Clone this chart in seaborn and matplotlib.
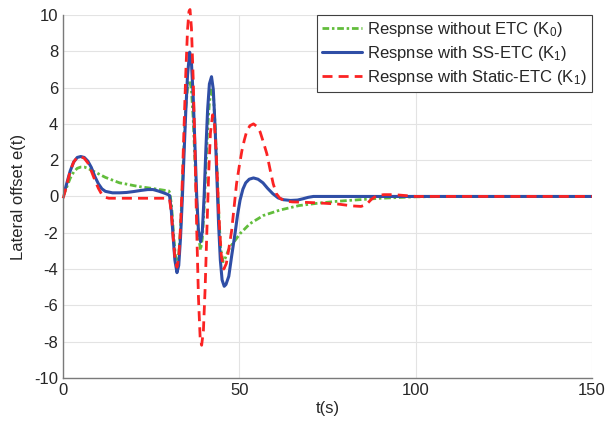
import matplotlib
matplotlib.use("Agg")
import matplotlib.pyplot as plt
import seaborn as sns
import pandas as pd

# values (time in s, lateral offset)
t_none = [0, 1, 2, 3, 4, 5, 6, 7, 8, 10, 12, 14, 16, 18, 20, 22, 25, 28, 30, 30.3,
          30.8, 31.3, 31.8, 32.3, 32.8, 33.3, 33.8, 34.3, 34.8, 35.3, 35.9, 36.4, 36.9,
          37.4, 37.9, 38.4, 39.0, 39.5, 40.0, 40.5, 41.0, 41.5, 42.2, 42.7, 43.2, 43.7,
          44.2, 44.7, 45.4, 46.0, 46.8, 47.5, 48.3, 50.2, 53, 56.8, 61.5, 67, 72, 77,
          81, 90, 100, 110, 150]
e_none = [0.0, 0.5, 1.0, 1.35, 1.55, 1.62, 1.62, 1.55, 1.45, 1.25, 1.05, 0.9, 0.75,
          0.68, 0.6, 0.53, 0.45, 0.36, 0.3, 0.2,
          -0.6, -2.0, -3.2, -3.6, -3.2, -1.8, 0.4, 2.9, 4.9, 6.0, 6.4, 5.9, 4.3,
          2.0, -0.4, -2.2, -2.95, -2.3, -0.6, 1.6, 3.7, 5.2, 6.0, 5.4, 3.6, 1.2,
          -1.2, -2.9, -3.6, -3.4, -3.0, -2.75, -2.55, -2.05, -1.5, -1.05, -0.75, -0.5,
          -0.38, -0.28, -0.22, -0.1, -0.02, 0.0, 0.0]

t_ss = [0, 1, 2, 3, 4, 5, 6, 7, 8, 9, 10, 11, 12, 14, 16, 18, 20, 22, 24, 25.5, 27,
        28.5, 29.8, 30.2, 30.7, 31.2, 31.7, 32.3, 32.8, 33.3, 33.8, 34.3, 34.8, 35.3,
        35.9, 36.4, 36.9, 37.4, 37.9, 38.4, 39.0, 39.5, 40.0, 40.5, 41.0, 41.5, 42.1,
        42.6, 43.1, 43.6, 44.1, 44.6, 45.1, 45.7, 46.2, 47.0, 47.8, 48.8, 49.5, 50.2,
        51.0, 51.8, 52.8, 54.0, 55.3, 56.7, 58.0, 59.5, 61.0, 62.5, 64.5, 66.5, 68.0,
        69.5, 71, 80, 150]
e_ss = [0.0, 0.7, 1.4, 1.9, 2.15, 2.2, 2.15, 1.95, 1.6, 1.1, 0.7, 0.42, 0.28, 0.2,
        0.2, 0.22, 0.27, 0.33, 0.38, 0.38, 0.3,
        0.2, 0.1, 0.05, -0.8, -2.2, -3.5, -4.2, -3.8, -2.3, -0.2, 2.3, 4.7, 6.7,
        7.95, 7.4, 5.5, 2.8, 0.0, -1.9, -2.5, -1.9, 0.0, 2.6, 4.8, 6.2, 6.6,
        5.9, 3.9, 1.2, -1.5, -3.5, -4.6, -4.95, -4.85, -4.4, -3.3, -2.0, -1.0, -0.2,
        0.4, 0.75, 0.95, 1.02, 0.95, 0.75, 0.45, 0.15, -0.08, -0.18, -0.22, -0.2, -0.13,
        -0.05, 0.0, 0.0, 0.0]

t_static = [0, 1, 2, 3, 4, 5, 6, 7, 8, 9, 10, 11, 12, 13, 20, 29.8, 30.2, 30.7, 31.2,
            31.7, 32.3, 32.8, 33.3, 33.8, 34.3, 34.8, 35.3, 35.7, 36.0, 36.4, 36.9, 37.4,
            37.9, 38.4, 38.9, 39.3, 39.8, 40.3, 40.8, 41.3, 41.8, 42.4, 42.9, 43.4,
            43.9, 44.4, 44.9, 45.6, 46.3, 47.0, 47.8, 48.5, 49.2, 50.0, 50.7, 51.4,
            52.1, 53.0, 54.0, 55.0, 55.9, 56.8, 57.8, 58.7, 59.6, 60.5, 61.5, 63, 65,
            68, 72, 78, 82, 84.5, 86, 87.5, 89, 91, 94, 97, 100, 150]
e_static = [-0.1, 0.6, 1.4, 1.9, 2.15, 2.2, 2.1, 1.85, 1.4, 0.9, 0.45, 0.1, -0.05,
            -0.1, -0.1, -0.1, -0.15, -0.9, -2.2,
            -3.4, -3.9, -3.4, -1.7, 0.8, 3.8, 6.8, 9.2, 10.2, 10.3, 9.3, 6.5, 2.6,
            -1.8, -5.6, -7.9, -8.2, -7.4, -5.0, -1.8, 1.3, 3.5, 4.5, 4.1, 2.5,
            0.3, -1.8, -3.3, -4.0, -3.7, -2.9, -1.9, -0.6, 0.7, 1.7, 2.5, 3.1,
            3.6, 3.9, 4.0, 3.85, 3.55, 3.0, 2.35, 1.5, 0.7, 0.15, -0.1, -0.25, -0.3,
            -0.32, -0.35, -0.42, -0.52, -0.55, -0.45, -0.15, 0.05, 0.1, 0.1, 0.05, 0.0, 0.0]

labels = ['Respnse without ETC (K$_0$)',
          'Respnse with SS-ETC (K$_1$)',
          'Respnse with Static-ETC (K$_1$)']
x_ticks = [0, 50, 100, 150]
y_ticks = [-10, -8, -6, -4, -2, 0, 2, 4, 6, 8, 10]

sns.set_style('white')
plt.rcParams['font.family'] = ['Liberation Sans', 'DejaVu Sans']
plt.rcParams['mathtext.default'] = 'regular'
plt.rcParams['axes.unicode_minus'] = False
plt.rcParams['font.size'] = 12

fig = plt.figure(figsize=(6.07, 4.28), dpi=100)
ax = fig.add_axes([0.104, 0.117, 0.871, 0.848])

df_none = pd.DataFrame({'t': t_none, 'e': e_none})
df_ss = pd.DataFrame({'t': t_ss, 'e': e_ss})
df_static = pd.DataFrame({'t': t_static, 'e': e_static})

sns.lineplot(data=df_none, x='t', y='e', ax=ax, estimator=None, color='#62bd3c',
             lw=2.0, linestyle=(0, (2.4, 1.0, 0.9, 1.0)), label=labels[0])
sns.lineplot(data=df_ss, x='t', y='e', ax=ax, estimator=None, color='#2f4ea6',
             lw=2.2, label=labels[1])
# the static-ETC peak overshoots the top of the axes in the original
sns.lineplot(data=df_static, x='t', y='e', ax=ax, estimator=None, color='#fb2323',
             lw=2.0, linestyle=(0, (3.6, 2.2)), label=labels[2], clip_on=False)

ax.set_xlim(0, 150)
ax.set_ylim(-10, 10)
ax.set_xticks(x_ticks)
ax.set_yticks(y_ticks)
ax.grid(True, color='#e3e3e3', lw=0.8)
ax.set_axisbelow(True)
for side in ['top', 'right']:
    ax.spines[side].set_visible(False)
for side in ['left', 'bottom']:
    ax.spines[side].set_color('#7a7a7a')
    ax.spines[side].set_linewidth(1.0)
ax.tick_params(direction='in', length=4, width=0.8, color='#7a7a7a',
               labelcolor='#262626', labelsize=12)
ax.set_xlabel('t(s)', fontsize=12, color='#262626', labelpad=2)
ax.set_ylabel('Lateral offset e(t)', fontsize=12, color='#262626', labelpad=6)

leg = ax.legend(loc='upper right', borderaxespad=0, fancybox=False, framealpha=1,
                edgecolor='#404040', fontsize=12, handlelength=2.4,
                labelspacing=0.3, handletextpad=0.3, borderpad=0.3)
leg.get_frame().set_linewidth(0.8)

plt.savefig('out.png', dpi=100)
plt.close()
